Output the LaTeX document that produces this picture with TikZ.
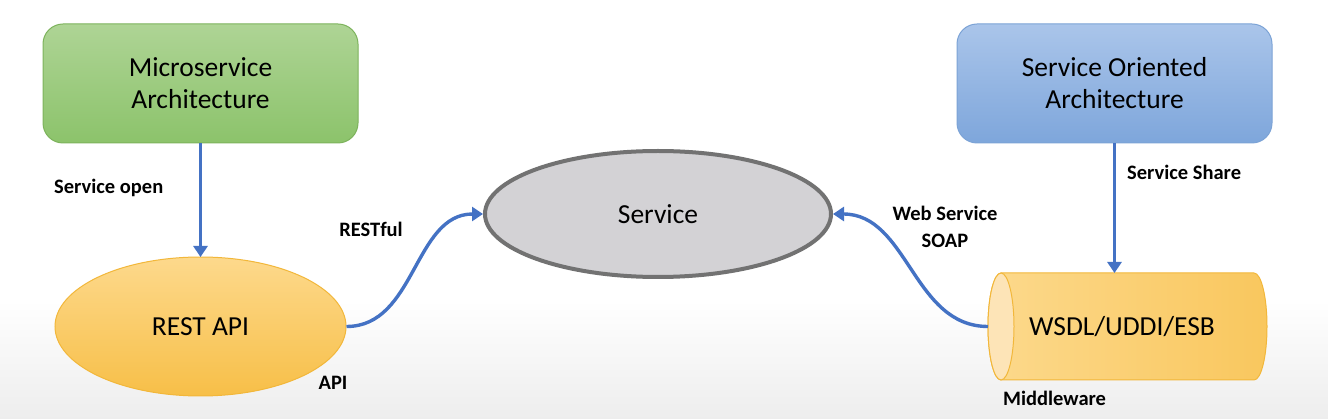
\documentclass[tikz,border=0pt]{standalone}
\usepackage{fontspec}
\setmainfont{Carlito}
\usetikzlibrary{shapes.geometric,arrows.meta}
\definecolor{lnblue}{HTML}{4472C4}
\definecolor{grA}{HTML}{AED495}
\definecolor{grB}{HTML}{8CC36B}
\definecolor{grD}{HTML}{7DB35C}
\definecolor{blA}{HTML}{AAC5EA}
\definecolor{blB}{HTML}{7EA6DB}
\definecolor{blD}{HTML}{7CA3D6}
\definecolor{orA}{HTML}{FDD98C}
\definecolor{orB}{HTML}{F7BF48}
\definecolor{orD}{HTML}{F2B73A}
\definecolor{cylA}{HTML}{FCD98C}
\definecolor{cylB}{HTML}{F9C75E}
\definecolor{cylEnd}{HTML}{FDE4B7}
\definecolor{svFill}{HTML}{D3D2D5}
\definecolor{svLine}{HTML}{727272}
\tikzset{
  bigtext/.style={font=\fontsize{27.5}{32}\selectfont, text=black, align=center},
  lbl/.style={font=\fontsize{20.5}{27}\selectfont\bfseries, text=black, align=center, inner sep=0pt},
  archbox/.style={rounded corners=20pt, minimum width=315pt, minimum height=119pt, inner sep=0pt, line width=1pt, bigtext},
  conn/.style={draw=lnblue, line width=3.4pt, -{Triangle[width=14pt,length=11pt]}},
  cylline/.style={draw=orD, line width=1pt},
}
\begin{document}
\begin{tikzpicture}[x=1pt,y=-1pt]
\useasboundingbox (0,0) rectangle (1328,419);
\fill[top color=white, bottom color=black!7] (0,300) rectangle (1328,419);
\fill[white] (0,0) rectangle (1328,300.5);

\node[archbox, draw=grD, top color=grA, bottom color=grB] (micro) at (200.5,83.5) {Microservice\\Architecture};
\node[archbox, draw=blD, top color=blA, bottom color=blB] (soa) at (1114.5,83.5) {Service Oriented\\Architecture};

\node[ellipse, draw=orD, line width=1pt, top color=orA, bottom color=orB, minimum width=291pt, minimum height=139pt, inner sep=0pt, bigtext] (rest) at (200.5,326.5) {REST API};

\node[ellipse, draw=svLine, fill=svFill, line width=4pt, minimum width=346pt, minimum height=126pt, inner sep=0pt, bigtext] (svc) at (658,214) {Service};

% cylinder (drawn directly)
\path[cylline, left color=cylA, right color=cylB]
  (1001,273) -- (1254,273) arc[start angle=-90, end angle=90, x radius=13, y radius=53.5]
  -- (1001,380) arc[start angle=90, end angle=270, x radius=13, y radius=53.5] -- cycle;
\path[cylline, fill=cylEnd] (1001,326.5) ellipse[x radius=13, y radius=53.5];
\node[bigtext] (cyl) at (1122,327) {WSDL/UDDI/ESB};

\coordinate (restTop) at (200.5,257);
\coordinate (cylTop) at (1114.5,273);
\coordinate (cylLeft) at (988,326.5);

\draw[conn] (micro.south) -- (restTop);
\draw[conn] (soa.south) -- (cylTop);
\draw[conn] (rest.east) to[out=0,in=180] (svc.west);
\draw[conn] (cylLeft) to[out=180,in=0] (svc.east);

\node[lbl, anchor=west] (lopen) at (54,188) {Service open};
\node[lbl] (lrestful) at (371,229) {RESTful};
\node[lbl] (lapi) at (333,383) {API};
\node[lbl] (lweb) at (945,226.5) {Web Service\\SOAP};
\node[lbl, anchor=west] (lshare) at (1127,172) {Service Share};
\node[lbl, anchor=west] (lmid) at (1003,398) {Middleware};
\end{tikzpicture}
\end{document}
